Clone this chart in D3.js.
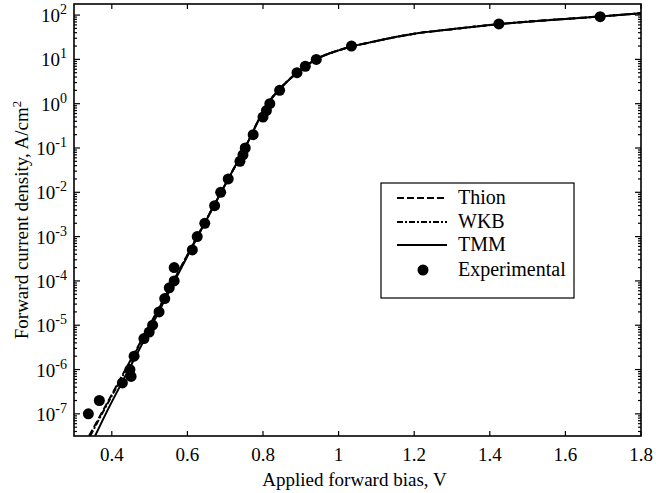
<!DOCTYPE html>
<html>
<head>
<meta charset="utf-8">
<script src="https://cdn.jsdelivr.net/npm/d3@7"></script>
<style>
  html, body { margin: 0; padding: 0; background: #fff; }
  svg text { font-family: "Liberation Serif", "Times New Roman", serif; fill: #000; }
</style>
</head>
<body>
<svg id="chart"></svg>
<script>
(function() {

// ---------------- data ----------------
// experimental points: bias (V) and current density (A/cm^2)
const expV = [0.338, 0.367, 0.428, 0.448, 0.451, 0.459, 0.485, 0.499, 0.508, 0.525,
              0.540, 0.552, 0.565, 0.565, 0.613, 0.626, 0.646, 0.672, 0.688, 0.708,
              0.739, 0.747, 0.753, 0.774, 0.800, 0.809, 0.818, 0.844, 0.890, 0.912,
              0.941, 1.034, 1.424, 1.692];
const expJ = [1e-7, 2e-7, 5e-7, 1e-6, 7e-7, 2e-6, 5e-6, 7e-6, 1e-5, 2e-5,
              4e-5, 7e-5, 1e-4, 2e-4, 5e-4, 1e-3, 2e-3, 5e-3, 1e-2, 2e-2,
              5e-2, 7e-2, 1e-1, 2e-1, 5e-1, 7e-1, 1, 2, 5, 7,
              10, 20, 63, 92];

// model curves
const thionV = [0.340, 0.372, 0.436, 0.500, 0.563, 0.626, 0.689, 0.752, 0.812, 0.845,
                0.890, 0.940, 1.000, 1.100, 1.200, 1.300, 1.420, 1.600, 1.700, 1.800];
const thionJ = [3.2e-8, 1e-7, 1e-6, 1e-5, 1e-4, 1e-3, 1e-2, 1e-1, 1, 2.2,
                5, 10, 16, 26, 38, 48, 62, 82, 94, 110];

const wkbV = [0.343, 0.374, 0.438, 0.501, 0.564, 0.626, 0.689, 0.752, 0.812, 0.845,
              0.890, 0.940, 1.000, 1.100, 1.200, 1.300, 1.420, 1.600, 1.700, 1.800];
const wkbJ = thionJ;

const tmmV = [0.356, 0.384, 0.445, 0.506, 0.566, 0.627, 0.689, 0.752, 0.813, 0.846,
              0.890, 0.940, 1.000, 1.100, 1.200, 1.300, 1.420, 1.600, 1.700, 1.800];
const tmmJ = thionJ;

const xTicks = [0.4, 0.6, 0.8, 1.0, 1.2, 1.4, 1.6, 1.8];
const yExps = [-7, -6, -5, -4, -3, -2, -1, 0, 1, 2];

const legendNames = ["Thion", "WKB", "TMM", "Experimental"];

// ---------------- layout ----------------
const width = 656, height = 493;
const plot = { left: 74, right: 641, top: 4, bottom: 436 };
const fontSize = 19;

const svg = d3.select("#chart").attr("width", width).attr("height", height);

const x = d3.scaleLinear().domain([0.3, 1.8]).range([plot.left, plot.right]);
const y = d3.scaleLog().domain([Math.pow(10, -7.5), Math.pow(10, 2.25)]).range([plot.bottom, plot.top]);

svg.append("defs").append("clipPath").attr("id", "clip")
  .append("rect")
    .attr("x", plot.left).attr("y", plot.top)
    .attr("width", plot.right - plot.left).attr("height", plot.bottom - plot.top);

// ---------------- ticks ----------------
const axisG = svg.append("g").attr("stroke", "#000").attr("stroke-width", 1.2);

// x ticks, bottom and top, pointing inward
xTicks.forEach(t => {
  axisG.append("line").attr("x1", x(t)).attr("x2", x(t)).attr("y1", plot.bottom).attr("y2", plot.bottom - 5);
  axisG.append("line").attr("x1", x(t)).attr("x2", x(t)).attr("y1", plot.top).attr("y2", plot.top + 5);
});

// y ticks (majors + minors), both sides
y.ticks().forEach(t => {
  const e = Math.log10(t);
  const major = Math.abs(e - Math.round(e)) < 1e-9;
  const len = major ? 6 : 3;
  axisG.append("line").attr("x1", plot.left).attr("x2", plot.left + len).attr("y1", y(t)).attr("y2", y(t));
  axisG.append("line").attr("x1", plot.right).attr("x2", plot.right - len).attr("y1", y(t)).attr("y2", y(t));
});

// frame
svg.append("rect")
  .attr("x", plot.left).attr("y", plot.top)
  .attr("width", plot.right - plot.left).attr("height", plot.bottom - plot.top)
  .attr("fill", "none").attr("stroke", "#000").attr("stroke-width", 1.6);

// tick labels
svg.append("g").selectAll("text")
  .data(xTicks)
  .join("text")
    .attr("x", d => x(d))
    .attr("y", 461)
    .attr("text-anchor", "middle")
    .attr("font-size", fontSize)
    .text(d => d3.format("~g")(d));

const yl = svg.append("g").selectAll("text")
  .data(yExps)
  .join("text")
    .attr("x", 67)
    .attr("y", d => y(Math.pow(10, d)) + 7)
    .attr("text-anchor", "end")
    .attr("font-size", fontSize);
yl.append("tspan").text("10");
yl.append("tspan").attr("dy", -8).attr("font-size", 14).text(d => d < 0 ? "-" + (-d) : d);

// axis titles
svg.append("text")
  .attr("x", (plot.left + plot.right) / 2 - 3)
  .attr("y", 486)
  .attr("text-anchor", "middle")
  .attr("font-size", fontSize)
  .text("Applied forward bias, V");

const yt = svg.append("text")
  .attr("transform", `translate(28, ${(plot.top + plot.bottom) / 2}) rotate(-90)`)
  .attr("text-anchor", "middle")
  .attr("font-size", fontSize);
yt.append("tspan").text("Forward current density, A/cm");
yt.append("tspan").attr("dy", -7).attr("font-size", 13).text("2");

// ---------------- curves ----------------
const line = d3.line()
  .x(d => x(d[0]))
  .y(d => y(d[1]))
  .curve(d3.curveMonotoneX);

const series = [
  { v: thionV, j: thionJ, dash: "7,3" },
  { v: wkbV, j: wkbJ, dash: "6,2,2,2" },
  { v: tmmV, j: tmmJ, dash: null }
];

const cg = svg.append("g").attr("clip-path", "url(#clip)");
series.forEach(s => {
  cg.append("path")
    .datum(d3.zip(s.v, s.j))
    .attr("d", line)
    .attr("fill", "none")
    .attr("stroke", "#000")
    .attr("stroke-width", 2)
    .attr("stroke-dasharray", s.dash);
});

cg.selectAll("circle")
  .data(d3.zip(expV, expJ))
  .join("circle")
    .attr("cx", d => x(d[0]))
    .attr("cy", d => y(d[1]))
    .attr("r", 5.5)
    .attr("fill", "#000");

// ---------------- legend ----------------
const lg = svg.append("g");
lg.append("rect")
  .attr("x", 381).attr("y", 183)
  .attr("width", 193).attr("height", 115)
  .attr("fill", "#fff").attr("stroke", "#000").attr("stroke-width", 1.2);

const rowY = [198, 222, 245, 270];
legendNames.forEach((name, i) => {
  if (i < 3) {
    lg.append("line")
      .attr("x1", 397).attr("x2", 447)
      .attr("y1", rowY[i]).attr("y2", rowY[i])
      .attr("stroke", "#000").attr("stroke-width", 2)
      .attr("stroke-dasharray", series[i].dash);
  } else {
    lg.append("circle").attr("cx", 423).attr("cy", rowY[i]).attr("r", 5.5).attr("fill", "#000");
  }
  lg.append("text")
    .attr("x", 458).attr("y", rowY[i] + 6)
    .attr("font-size", 20)
    .text(name);
});

})();
</script>
</body>
</html>
